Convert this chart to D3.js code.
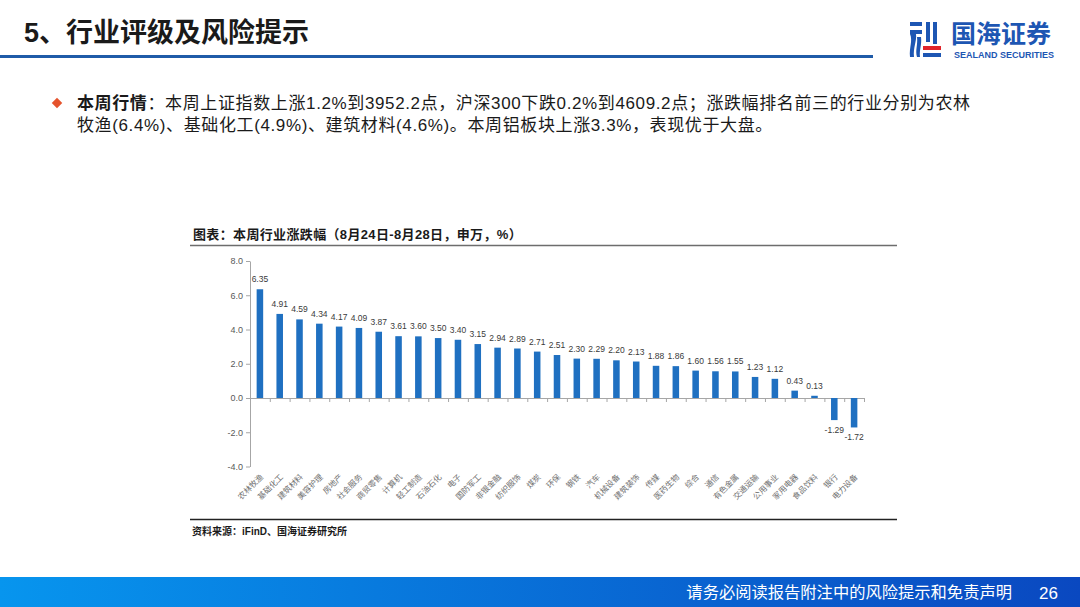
<html>
<head>
  <meta charset="utf-8">
  <script src="https://d3js.org/d3.v7.min.js"></script>
  <style>
    body { margin: 0; background: #fff; }
    text { font-family: "Liberation Sans", Arial, "Noto Sans CJK SC", sans-serif; }
    .axis path, .axis line { stroke: #a6a6a6; }
    .axis text { fill: #595959; font-size: 9px; }
  </style>
</head>
<body>
  <svg id="p" width="1080" height="607"></svg>
  <script>
    // industries, sorted by weekly change
    const industries = ["农林牧渔","基础化工","建筑材料","美容护理","房地产","社会服务","商贸零售","计算机",
      "轻工制造","石油石化","电子","国防军工","非银金融","纺织服饰","煤炭","环保","钢铁","汽车",
      "机械设备","建筑装饰","传媒","医药生物","综合","通信","有色金属","交通运输","公用事业",
      "家用电器","食品饮料","银行","电力设备"];
    const changes = [6.35,4.91,4.59,4.34,4.17,4.09,3.87,3.61,3.60,3.50,3.40,3.15,2.94,2.89,2.71,
      2.51,2.30,2.29,2.20,2.13,1.88,1.86,1.60,1.56,1.55,1.23,1.12,0.43,0.13,-1.29,-1.72];
    const yTicks = [-4, -2, 0, 2, 4, 6, 8];

    const svg = d3.select("svg#p");
    const data = industries.map((name, i) => ({name: name, value: changes[i]}));

    // ---- page header ----
    svg.append("text").attr("x", 24).attr("y", 42)
       .style("font-size", "27px").style("font-weight", "bold").attr("fill", "#1a1a1a")
       .text("5、行业评级及风险提示");
    svg.append("rect").attr("x", 0).attr("y", 55).attr("width", 873).attr("height", 3)
       .attr("fill", "#1f5ba8");

    // logo
    const logo = svg.append("g").attr("transform", "translate(909,21)");
    logo.append("rect").attr("x", 1).attr("y", 1).attr("width", 12).attr("height", 4).attr("fill", "#1d56b3");
    logo.append("path").attr("d", "M1,9 L13,9 L13,13 L7,13 C8,20 4,26 5,36 L1,36 C0,26 4,20 1,13 Z").attr("fill", "#1d56b3");
    logo.append("path").attr("d", "M8,16 L12,16 C13,24 10,29 11,36 L8,36 C6,29 9,24 8,16 Z").attr("fill", "#1d56b3");
    logo.append("rect").attr("x", 17).attr("y", 1).attr("width", 4).attr("height", 20).attr("fill", "#1d56b3");
    logo.append("rect").attr("x", 24).attr("y", 1).attr("width", 4).attr("height", 22).attr("fill", "#1d56b3");
    logo.append("rect").attr("x", 14).attr("y", 25).attr("width", 18).attr("height", 4).attr("fill", "#e0242b");
    logo.append("rect").attr("x", 14).attr("y", 32).attr("width", 18).attr("height", 4).attr("fill", "#1d56b3");
    svg.append("text").attr("x", 951).attr("y", 43)
       .style("font-size", "25px").style("font-weight", "bold").attr("fill", "#1d56b3")
       .style("font-family", "'Noto Sans CJK SC'")
       .text("国海证券");
    svg.append("text").attr("x", 954).attr("y", 58)
       .style("font-size", "9px").style("font-weight", "bold").attr("fill", "#1d56b3")
       .text("SEALAND SECURITIES");

    // ---- bullet text ----
    svg.append("path").attr("d", d3.symbol(d3.symbolDiamond2, 70)())
       .attr("transform", "translate(57,103)").attr("fill", "#e5532c");
    const line1 = svg.append("text").attr("x", 77).attr("y", 109)
       .style("font-size", "17px").style("letter-spacing", "0.62px").attr("fill", "#1a1a1a");
    line1.append("tspan").style("font-weight", "bold").text("本周行情");
    line1.append("tspan").text("：本周上证指数上涨1.2%到3952.2点，沪深300下跌0.2%到4609.2点；涨跌幅排名前三的行业分别为农林");
    svg.append("text").attr("x", 77).attr("y", 131)
       .style("font-size", "17px").style("letter-spacing", "0.62px").attr("fill", "#1a1a1a")
       .text("牧渔(6.4%)、基础化工(4.9%)、建筑材料(4.6%)。本周铝板块上涨3.3%，表现优于大盘。");

    // ---- chart frame ----
    svg.append("text").attr("x", 193).attr("y", 239)
       .style("font-size", "13px").style("letter-spacing", "0.35px").style("font-weight", "bold").attr("fill", "#1a1a1a")
       .text("图表：本周行业涨跌幅（8月24日-8月28日，申万，%）");
    svg.append("line").attr("x1", 190).attr("x2", 897).attr("y1", 245.5).attr("y2", 245.5)
       .attr("stroke", "#6d6d6d").attr("stroke-width", 1.5);
    svg.append("line").attr("x1", 190).attr("x2", 897).attr("y1", 519.5).attr("y2", 519.5)
       .attr("stroke", "#222").attr("stroke-width", 1.5);
    svg.append("text").attr("x", 192).attr("y", 535)
       .style("font-size", "10px").style("font-weight", "bold").attr("fill", "#1a1a1a")
       .text("资料来源：iFinD、国海证券研究所");

    // ---- chart ----
    const x0 = 250, x1 = 864;
    const x = d3.scaleBand().domain(industries).range([x0, x1]).paddingInner(0.67).paddingOuter(0.335);
    const xEdge = d3.scaleLinear().domain([0, industries.length]).range([x0, x1]);
    const y = d3.scaleLinear().domain([-4, 8]).range([466.5, 261]);

    const annotations = svg.append("g");
    annotations.append("g").attr("class", "y axis")
       .attr("transform", "translate(" + x0 + ",0)")
       .call(d3.axisLeft(y).tickValues(yTicks).tickFormat(d => d.toFixed(1)).tickSize(4).tickSizeOuter(0));

    const chartArea = svg.append("g");
    chartArea.selectAll("rect.bar").data(data).join("rect")
       .attr("class", "bar")
       .attr("x", d => x(d.name))
       .attr("width", x.bandwidth())
       .attr("y", d => y(Math.max(0, d.value)))
       .attr("height", d => Math.abs(y(d.value) - y(0)))
       .attr("fill", "#1f70c1");

    annotations.append("g").attr("class", "x axis")
       .attr("transform", "translate(0," + y(0) + ")")
       .call(d3.axisBottom(xEdge).tickValues(d3.range(1, industries.length + 1)).tickFormat("").tickSize(4).tickSizeOuter(0));

    chartArea.selectAll("text.val").data(data).join("text")
       .attr("class", "val")
       .attr("x", d => x(d.name) + x.bandwidth() / 2)
       .attr("y", d => d.value >= 0 ? y(d.value) - 7 : y(d.value) + 13)
       .attr("text-anchor", "middle")
       .style("font-size", "8.5px").attr("fill", "#3a3a3a")
       .text(d => d.value.toFixed(2));

    chartArea.selectAll("text.cat").data(data).join("text")
       .attr("class", "cat")
       .attr("transform", d => "translate(" + (x(d.name) + x.bandwidth() / 2 + 4) + "," + (y(-4) + 11) + ") rotate(-45)")
       .attr("text-anchor", "end")
       .style("font-size", "8px").attr("fill", "#707070")
       .text(d => d.name);

    // ---- footer ----
    const grad = svg.append("defs").append("linearGradient").attr("id", "foot");
    grad.append("stop").attr("offset", "0%").attr("stop-color", "#0795ee");
    grad.append("stop").attr("offset", "100%").attr("stop-color", "#0a48c0");
    svg.append("rect").attr("x", 0).attr("y", 577).attr("width", 1080).attr("height", 30).attr("fill", "url(#foot)");
    svg.append("text").attr("x", 1012).attr("y", 598).attr("text-anchor", "end")
       .style("font-size", "16.3px").attr("fill", "#fff")
       .text("请务必阅读报告附注中的风险提示和免责声明");
    svg.append("text").attr("x", 1058).attr("y", 599).attr("text-anchor", "end")
       .style("font-size", "17px").attr("fill", "#fff")
       .text("26");
  </script>
</body>
</html>
